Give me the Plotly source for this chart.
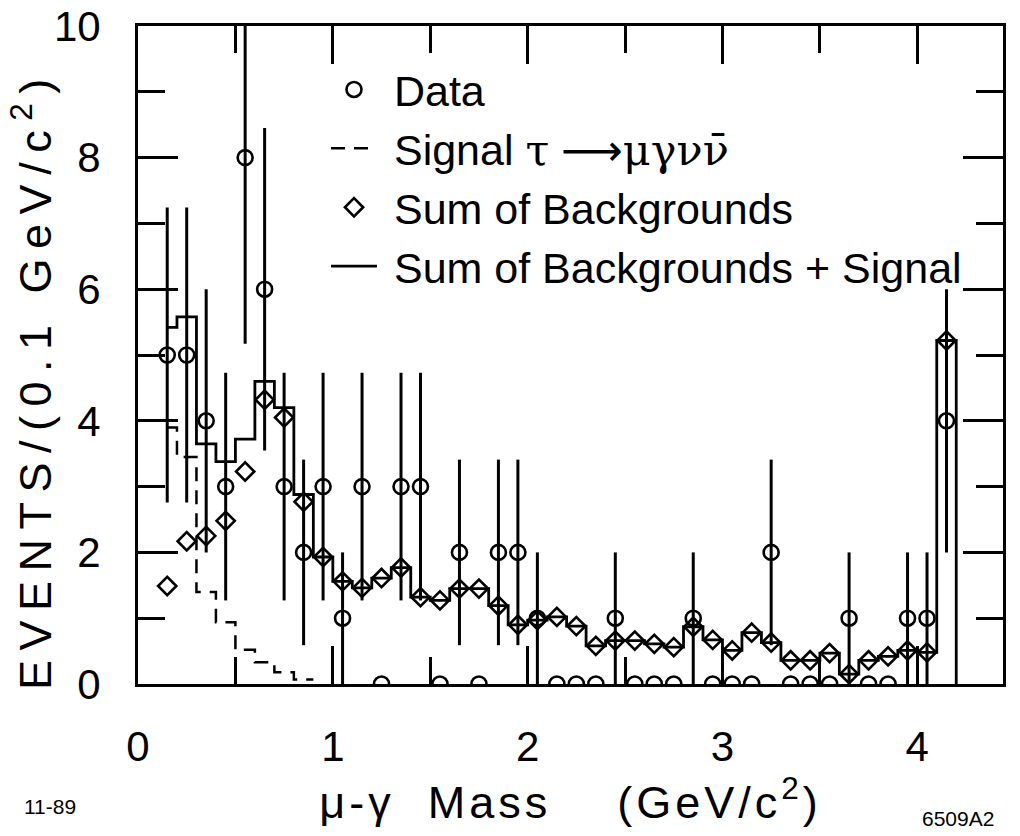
import plotly.graph_objects as go

# ---------------- data ----------------
mass_centers = [0.15, 0.25, 0.35, 0.45, 0.55, 0.65, 0.75, 0.85, 0.95, 1.05,
                1.15, 1.25, 1.35, 1.45, 1.55, 1.65, 1.75, 1.85, 1.95, 2.05,
                2.15, 2.25, 2.35, 2.45, 2.55, 2.65, 2.75, 2.85, 2.95, 3.05,
                3.15, 3.25, 3.35, 3.45, 3.55, 3.65, 3.75, 3.85, 3.95, 4.05,
                4.15]

data_events = [5, 5, 4, 3, 8, 6, 3, 2, 3, 1,
               3, 0, 3, 3, 0, 2, 0, 2, 2, 1,
               0, 0, 0, 1, 0, 0, 0, 1, 0, 0,
               0, 2, 0, 0, 0, 1, 0, 0, 1, 1,
               4]

data_err = [2.24, 2.24, 2.0, 1.73, 2.83, 2.45, 1.73, 1.41, 1.73, 1.0,
            1.73, 0, 1.73, 1.73, 0, 1.41, 0, 1.41, 1.41, 1.0,
            0, 0, 0, 1.0, 0, 0, 0, 1.0, 0, 0,
            0, 1.41, 0, 0, 0, 1.0, 0, 0, 1.0, 1.0,
            2.0]

background = [1.49, 2.17, 2.25, 2.48, 3.23, 4.32, 4.05, 2.77, 1.93, 1.56,
              1.46, 1.61, 1.77, 1.32, 1.27, 1.45, 1.45, 1.19, 0.90, 0.97,
              1.02, 0.88, 0.58, 0.66, 0.66, 0.61, 0.56, 0.87, 0.67, 0.51,
              0.78, 0.63, 0.36, 0.36, 0.47, 0.15, 0.36, 0.42, 0.51, 0.48,
              5.22]

bkg_plus_signal = [5.42, 5.58, 3.65, 3.38, 3.72, 4.60, 4.20, 2.88, 1.93, 1.56,
                   1.46, 1.61, 1.77, 1.32, 1.27, 1.45, 1.45, 1.19, 0.90, 0.97,
                   1.02, 0.88, 0.58, 0.66, 0.66, 0.61, 0.56, 0.87, 0.67, 0.51,
                   0.78, 0.63, 0.36, 0.36, 0.47, 0.15, 0.36, 0.42, 0.51, 0.48,
                   5.22]

signal_centers = [0.15, 0.25, 0.35, 0.45, 0.55, 0.65, 0.75, 0.85]
signal = [3.90, 3.45, 1.40, 0.94, 0.52, 0.33, 0.18, 0.07]

x_ticks = [0, 1, 2, 3, 4]
y_ticks = [0, 2, 4, 6, 8, 10]

BIN = 0.1

# ---------------- layout geometry (pixels) ----------------
W, H = 1020, 836
L, R, T, B = 138, 1003, 26, 684


def px(x):
    return (x - L) / (R - L)


def py(y):
    return (B - y) / (B - T)


FONT = "Liberation Sans, Arial, Helvetica, sans-serif"
SERIF = "DejaVu Serif, Liberation Serif, serif"
SP = "\u00a0"

# step histograms built from bin centres
sum_x = [mass_centers[0]] + [c - BIN / 2 for c in mass_centers[1:]] + [mass_centers[-1] + BIN / 2]
sum_y = bkg_plus_signal + [0]

sig_x = [signal_centers[0]] + [c - BIN / 2 for c in signal_centers[1:]] + [signal_centers[-1] + BIN / 2]
sig_y = signal + [signal[-1]]

fig = go.Figure()

fig.add_trace(go.Scatter(
    x=sig_x, y=sig_y, mode="lines", line_shape="hv",
    line=dict(color="black", width=2.5, dash="14px,9px"),
    name=(SP + 'Signal <span style="font-family:%s">τ</span> '
          '<span style="font-family:DejaVu Sans">⟶</span>'
          '<span style="font-family:%s">μγνν̄</span>') % (SERIF, SERIF),
    legendrank=2,
))

fig.add_trace(go.Scatter(
    x=sum_x, y=sum_y, mode="lines", line_shape="hv",
    line=dict(color="black", width=2.8),
    name=SP + "Sum of Backgrounds + Signal", legendrank=4,
))

fig.add_trace(go.Scatter(
    x=mass_centers, y=data_events, mode="markers",
    marker=dict(symbol="circle-open", size=15, color="black", line=dict(width=2.6, color="black")),
    error_y=dict(type="data", array=data_err, symmetric=True, thickness=3, width=0, color="black"),
    name=SP + "Data", legendrank=1,
))

fig.add_trace(go.Scatter(
    x=mass_centers, y=background, mode="markers",
    marker=dict(symbol="diamond-open", size=14, color="black", line=dict(width=2.6, color="black")),
    name=SP + "Sum of Backgrounds", legendrank=3,
))

axis_common = dict(
    showline=True, linewidth=3, linecolor="black", mirror="ticks",
    ticks="inside", tickwidth=2.5, tickcolor="black",
    showgrid=False, zeroline=False, automargin=False,
    tickfont=dict(size=42, family=FONT, color="black"),
)

fig.update_xaxes(
    range=[0, 4.44], tickvals=x_ticks, ticktext=[str(v) for v in x_ticks],
    ticklen=38, ticklabelstandoff=24,
    minor=dict(ticks="inside", ticklen=27, tickwidth=2.5, tickcolor="black", dtick=0.5),
    title=dict(text=('<span style="letter-spacing:4px">μ-γ' + SP * 2 + 'Mass' + SP * 4 +
                     '(GeV/c<sup>2</sup>)</span>'),
               font=dict(size=45, family=FONT, color="black"), standoff=6),
    **axis_common,
)

fig.update_yaxes(
    range=[0, 10], tickvals=y_ticks, ticktext=[str(v) for v in y_ticks],
    ticklen=40, ticklabelstandoff=26,
    minor=dict(ticks="inside", ticklen=27, tickwidth=2.5, tickcolor="black", dtick=1),
    **axis_common,
)

fig.update_layout(
    width=W, height=H,
    margin=dict(l=L, r=W - R, t=T, b=H - B),
    paper_bgcolor="white", plot_bgcolor="white",
    showlegend=True,
    legend=dict(
        x=px(326), y=py(55), xanchor="left", yanchor="top",
        font=dict(size=43, family=FONT, color="black"),
        bgcolor="rgba(0,0,0,0)", borderwidth=0,
        traceorder="normal", itemwidth=46, tracegroupgap=0,
    ),
    annotations=[
        dict(text='<span style="letter-spacing:9.5px">EVENTS/(0.1' + SP + 'GeV/c<sup>2</sup>)</span>',
             textangle=-90, x=px(32), y=py(380), xref="paper", yref="paper",
             xanchor="center", yanchor="middle",
             showarrow=False, font=dict(size=45, family=FONT, color="black")),
        dict(text="11-89", x=px(50), y=py(806), xref="paper", yref="paper",
             xanchor="center", yanchor="middle",
             showarrow=False, font=dict(size=21, family=FONT, color="black")),
        dict(text="6509A2", x=px(958), y=py(818), xref="paper", yref="paper",
             xanchor="center", yanchor="middle",
             showarrow=False, font=dict(size=21, family=FONT, color="black")),
    ],
)

fig.write_html("out.html")
